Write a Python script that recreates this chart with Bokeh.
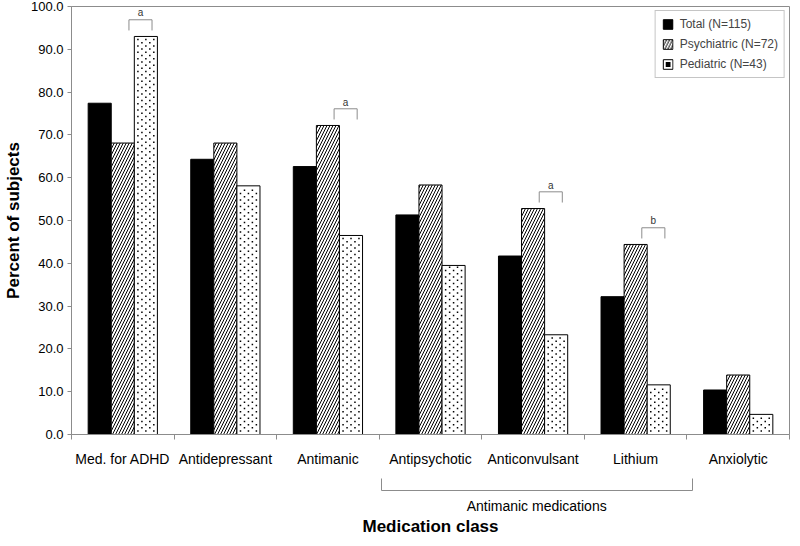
from bokeh.plotting import figure
from bokeh.models import (Range1d, FixedTicker, NumeralTickFormatter, ColumnDataSource,
                          LinearAxis, Legend, LegendItem)
from bokeh.embed import file_html
from bokeh.resources import INLINE
from bokeh.core.properties import value

# ---------------- data ----------------
categories = ["Med. for ADHD", "Antidepressant", "Antimanic", "Antipsychotic",
              "Anticonvulsant", "Lithium", "Anxiolytic"]
total = [77.4, 64.3, 62.6, 51.3, 41.7, 32.2, 10.4]
psychiatric = [68.1, 68.1, 72.2, 58.3, 52.8, 44.4, 13.9]
pediatric = [93.0, 58.1, 46.5, 39.5, 23.3, 11.6, 4.7]
series_labels = ["Total (N=115)", "Psychiatric (N=72)", "Pediatric (N=43)"]
y_ticks = [0, 10, 20, 30, 40, 50, 60, 70, 80, 90, 100]
sig_categories = [0, 2, 4, 5]
sig_letters = ["a", "a", "a", "b"]
group_label = "Antimanic medications"
group_first, group_last = 3, 5
x_title = "Medication class"
y_title = "Percent of subjects"

# ---------------- styling ----------------
FONT = "Liberation Sans"
GRAY = "#8c8c8c"
BAR_W = 0.225
n = len(categories)
centers = [i + 0.5 for i in range(n)]

p = figure(width=792, height=538, x_range=Range1d(0, n), y_range=Range1d(0, 100),
           output_backend="svg", toolbar_location=None,
           min_border_left=63, min_border_right=3, min_border_top=6, min_border_bottom=0)
p.xgrid.visible = False
p.ygrid.visible = False
p.outline_line_color = GRAY
p.background_fill_color = "white"

src = ColumnDataSource(dict(
    xt=[c - BAR_W for c in centers],
    xp=centers,
    xd=[c + BAR_W for c in centers],
    total=total, psychiatric=psychiatric, pediatric=pediatric,
))

r_total = p.vbar(x="xt", top="total", width=BAR_W, source=src,
                 fill_color="black", line_color="black", line_width=1)
r_psy = p.vbar(x="xp", top="psychiatric", width=BAR_W, source=src,
               fill_color="white", line_color="black", line_width=1,
               hatch_pattern="/", hatch_color="black", hatch_scale=6, hatch_weight=1)
r_ped = p.vbar(x="xd", top="pediatric", width=BAR_W, source=src,
               fill_color="white", line_color="black", line_width=1)

# dotted fill of the pediatric bars (staggered lattice inside each bar)
DY = 0.75
even_off = [0.035, 0.1125, 0.19]
odd_off = [0.074, 0.151]
dxs, dys = [], []
for i, v in enumerate(pediatric):
    left = centers[i] + BAR_W - BAR_W / 2
    k = 0
    y = 0.8
    while y < v - 0.4:
        for o in (even_off if k % 2 == 0 else odd_off):
            dxs.append(left + o)
            dys.append(y)
        y += DY
        k += 1
r_dots = p.scatter(x=dxs, y=dys, marker="square", size=1.5,
                   fill_color="black", line_color=None)

# significance brackets
bx, by, tx, ty = [], [], [], []
for c in sig_categories:
    x0 = centers[c] + 0.06
    x1 = centers[c] + BAR_W + 0.06
    base = max(psychiatric[c], pediatric[c]) + 1.4
    top = base + 2.5
    bx.append([x0, x0, x1, x1])
    by.append([base, top, top, base])
    tx.append((x0 + x1) / 2)
    ty.append(top + 0.3)
p.multi_line(xs=bx, ys=by, line_color=GRAY, line_width=1)
p.text(x=tx, y=ty, text=sig_letters, text_align="center", text_baseline="bottom",
       text_font=value(FONT), text_font_size="10px", text_color="#333333")

# x axis (categories)
xa = p.xaxis[0]
xa.ticker = FixedTicker(ticks=centers, minor_ticks=list(range(n + 1)))
xa.major_label_overrides = {c: lab for c, lab in zip(centers, categories)}
xa.major_tick_line_color = None
xa.major_tick_in = 0
xa.major_tick_out = 0
xa.minor_tick_in = 0
xa.minor_tick_out = 5
xa.minor_tick_line_color = GRAY
xa.axis_line_color = GRAY
xa.major_label_standoff = 11
xa.major_label_text_font = FONT
xa.major_label_text_font_size = "14px"
xa.major_label_text_color = "black"
xa.axis_label = " "
xa.axis_label_text_font_size = "2px"
xa.axis_label_standoff = 16

# group bracket axis
gx0 = group_first + 0.02
gx1 = group_last + 1 + 0.05
gmid = (gx0 + gx1) / 2
ga = LinearAxis(bounds=(gx0 - 0.001, gx1 + 0.001),
                ticker=FixedTicker(ticks=[gmid], minor_ticks=[gx0, gx1]))
ga.major_label_overrides = {gmid: group_label}
ga.major_tick_line_color = None
ga.major_tick_in = 0
ga.major_tick_out = 0
ga.minor_tick_in = 12
ga.minor_tick_out = 0
ga.minor_tick_line_color = GRAY
ga.axis_line_color = GRAY
ga.major_label_standoff = 7
ga.major_label_text_font = FONT
ga.major_label_text_font_size = "14px"
ga.major_label_text_color = "black"
ga.axis_label = x_title
ga.axis_label_text_font = FONT
ga.axis_label_text_font_style = "bold"
ga.axis_label_text_font_size = "17px"
ga.axis_label_text_color = "black"
ga.axis_label_standoff = 0
p.add_layout(ga, "below")

# y axis
ya = p.yaxis[0]
ya.ticker = FixedTicker(ticks=y_ticks, minor_ticks=[])
ya.formatter = NumeralTickFormatter(format="0.0")
ya.major_tick_in = 0
ya.major_tick_out = 4
ya.major_tick_line_color = GRAY
ya.axis_line_color = GRAY
ya.major_label_standoff = 4
ya.major_label_text_font = FONT
ya.major_label_text_font_size = "13px"
ya.major_label_text_color = "black"
ya.axis_label = y_title
ya.axis_label_text_font = FONT
ya.axis_label_text_font_style = "bold"
ya.axis_label_text_font_size = "17px"
ya.axis_label_text_color = "black"
ya.axis_label_standoff = 5

legend = Legend(items=[LegendItem(label=series_labels[0], renderers=[r_total]),
                       LegendItem(label=series_labels[1], renderers=[r_psy]),
                       LegendItem(label=series_labels[2], renderers=[r_ped, r_dots])],
                location="top_right", border_line_color=GRAY, border_line_width=1,
                background_fill_color="white", background_fill_alpha=1,
                label_text_font=FONT, label_text_font_size="12px",
                glyph_width=12, glyph_height=12, label_height=14, spacing=6,
                padding=6, margin=4, label_standoff=6)
p.add_layout(legend)

open("out.html", "w").write(file_html(p, INLINE))
